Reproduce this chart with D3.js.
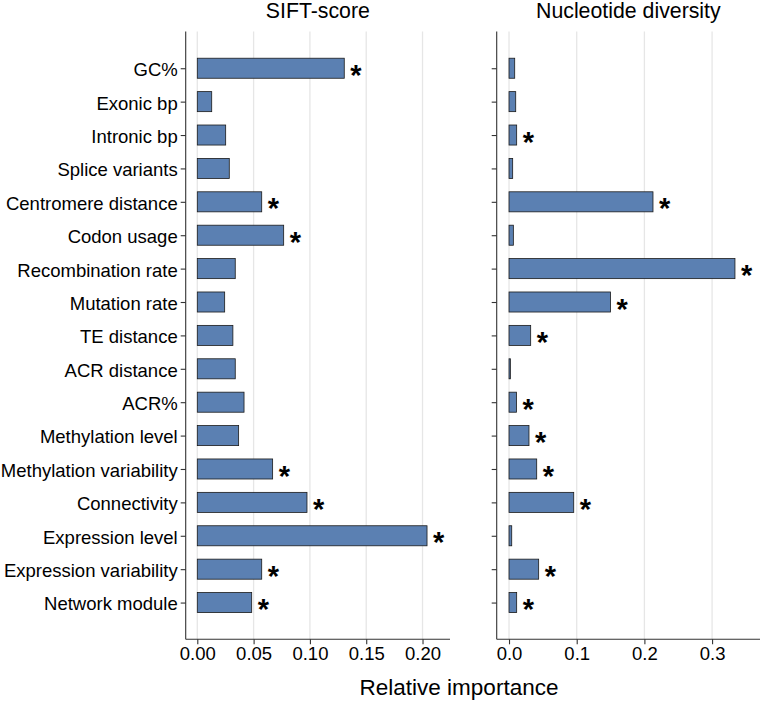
<!DOCTYPE html>
<html>
<head>
<meta charset="utf-8">
<script src="https://cdn.jsdelivr.net/npm/d3@7"></script>
<style>
  body { margin: 0; background: #fff; }
  svg text { font-family: "Liberation Sans", Arial, sans-serif; }
</style>
</head>
<body>
<div id="chart"></div>
<script>
const features = ["GC%", "Exonic bp", "Intronic bp", "Splice variants", "Centromere distance",
    "Codon usage", "Recombination rate", "Mutation rate", "TE distance", "ACR distance", "ACR%",
    "Methylation level", "Methylation variability", "Connectivity", "Expression level",
    "Expression variability", "Network module"];

const siftValues = [0.1305, 0.0128, 0.0252, 0.0284, 0.0572, 0.0767, 0.0337, 0.0243, 0.0316, 0.0337,
    0.0415, 0.0367, 0.0669, 0.0974, 0.204, 0.0572, 0.0483];
const siftSig = [1, 0, 0, 0, 1, 1, 0, 0, 0, 0, 0, 0, 1, 1, 1, 1, 1];

const nucValues = [0.0084, 0.0099, 0.0113, 0.0054, 0.2127, 0.0064, 0.3338, 0.150, 0.032, 0.002,
    0.011, 0.0295, 0.0409, 0.0956, 0.004, 0.0438, 0.0113];
const nucSig = [0, 0, 1, 0, 1, 0, 1, 1, 1, 0, 1, 1, 1, 1, 0, 1, 1];

const siftTicks = [0, 0.05, 0.10, 0.15, 0.20];
const nucTicks = [0, 0.1, 0.2, 0.3];

const width = 762, height = 702;
const panelTop = 31.5, panelBottom = 639.3;

const panels = [
    { title: "SIFT-score", values: siftValues, sig: siftSig, ticks: siftTicks, fmt: d3.format(".2f"),
      x0: 185.7, x1: 450, domain: [-0.0103, 0.2244], labels: true },
    { title: "Nucleotide diversity", values: nucValues, sig: nucSig, ticks: nucTicks, fmt: d3.format(".1f"),
      x0: 496.7, x1: 760, domain: [-0.0182, 0.3708], labels: false }
];

const svg = d3.select("#chart").append("svg")
    .attr("width", width)
    .attr("height", height);

const yScale = d3.scalePoint()
    .domain(features)
    .range([panelTop, panelBottom])
    .padding(1.1);
const barH = yScale.step() * 0.6;

panels.forEach(p => {
    const xScale = d3.scaleLinear().domain(p.domain).range([p.x0, p.x1]);
    const g = svg.append("g");

    // grid
    g.selectAll("line.grid")
        .data(p.ticks)
        .enter().append("line")
        .attr("x1", d => xScale(d)).attr("x2", d => xScale(d))
        .attr("y1", panelTop).attr("y2", panelBottom)
        .attr("stroke", "#e6e6e6")
        .attr("stroke-width", 1.3);

    // bars
    const rows = features.map((f, i) => ({ f, v: p.values[i], s: p.sig[i] }));
    g.selectAll("rect")
        .data(rows)
        .enter().append("rect")
        .attr("x", xScale(0))
        .attr("y", d => yScale(d.f) - barH / 2)
        .attr("width", d => xScale(d.v) - xScale(0))
        .attr("height", barH)
        .attr("fill", "#5b80b2")
        .attr("stroke", "#1a1a1a")
        .attr("stroke-width", 0.8);

    // significance stars
    const starSize = 29;
    g.selectAll("text.star")
        .data(rows.filter(d => d.s))
        .enter().append("text")
        .attr("x", d => xScale(d.v) + 6)
        .attr("y", d => yScale(d.f) + 0.57 * starSize)
        .style("font-size", starSize + "px")
        .style("font-weight", "bold")
        .attr("fill", "#000")
        .text("*");

    // x axis
    const xAxis = g.append("g")
        .attr("transform", `translate(0,${panelBottom})`)
        .call(d3.axisBottom(xScale).tickValues(p.ticks).tickFormat(p.fmt).tickSize(5).tickPadding(3));
    xAxis.select(".domain").attr("stroke", "#333").attr("stroke-width", 1.1)
        .attr("d", `M${p.x0},0H${p.x1}`);
    xAxis.selectAll(".tick line").attr("stroke", "#333").attr("stroke-width", 1.1);
    xAxis.selectAll("text").style("font-size", "18.5px").attr("fill", "#000");

    // y axis
    const yAxis = g.append("g")
        .attr("transform", `translate(${p.x0},0)`)
        .call(d3.axisLeft(yScale).tickSize(5).tickPadding(3));
    yAxis.select(".domain").attr("stroke", "#333").attr("stroke-width", 1.1)
        .attr("d", `M0,${panelTop}V${panelBottom}`);
    yAxis.selectAll(".tick line").attr("stroke", "#333").attr("stroke-width", 1.1);
    if (p.labels) {
        yAxis.selectAll("text").style("font-size", "18.5px").attr("fill", "#000").attr("dy", "0.4em");
    } else {
        yAxis.selectAll("text").remove();
    }

    // panel title
    svg.append("text")
        .attr("x", (p.x0 + p.x1) / 2)
        .attr("y", 18)
        .attr("text-anchor", "middle")
        .style("font-size", "21.3px")
        .text(p.title);
});

// axis title
svg.append("text")
    .attr("x", 459)
    .attr("y", 695)
    .attr("text-anchor", "middle")
    .style("font-size", "22.5px")
    .text("Relative importance");
</script>
</body>
</html>
